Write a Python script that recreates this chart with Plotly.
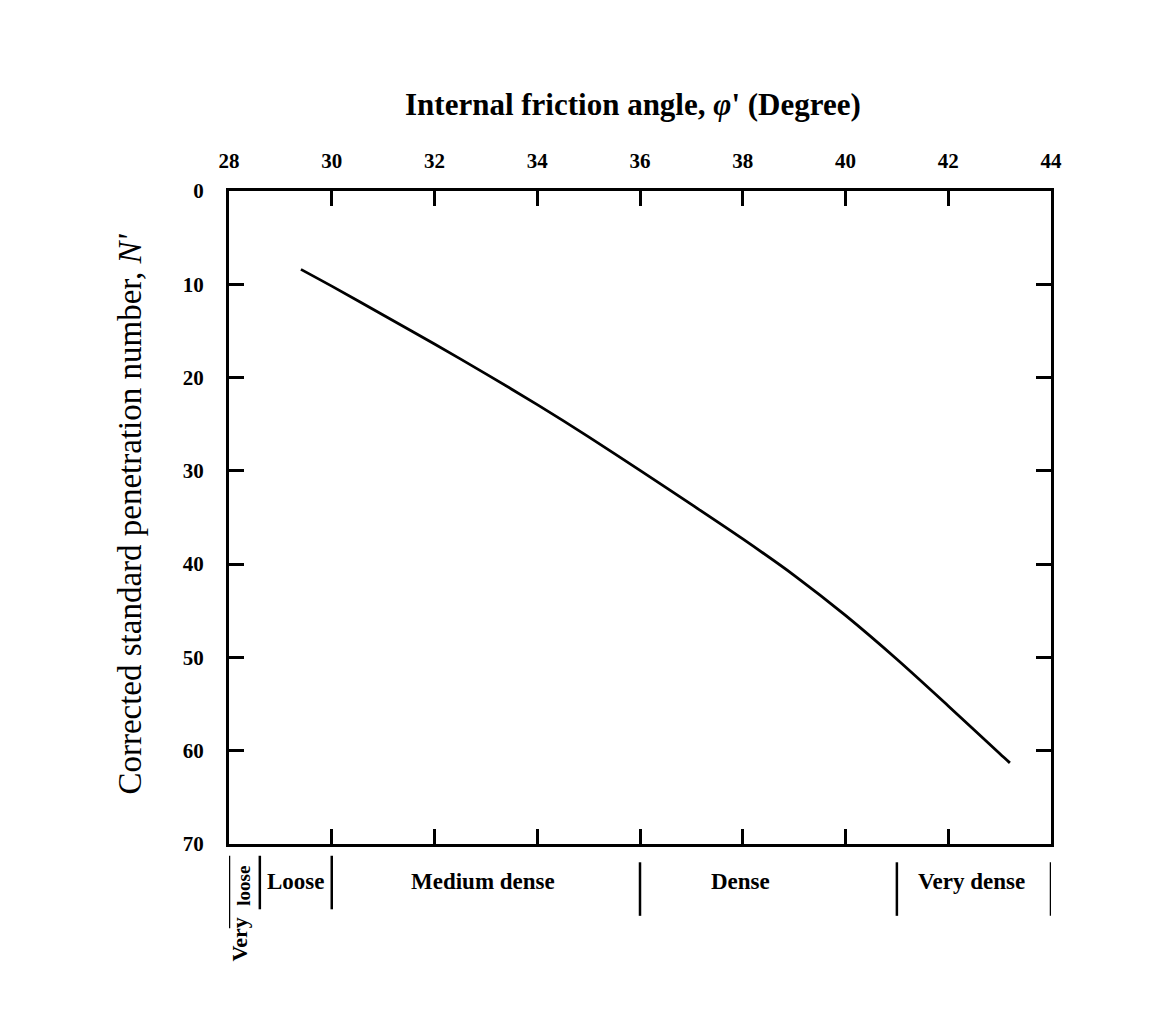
import plotly.graph_objects as go

# Data
phi = [29.4, 30, 31, 32, 33, 34, 35, 36, 37, 38, 39, 40, 41, 42, 43, 43.2]
n_corr = [8.4, 10.2, 13.3, 16.4, 19.6, 22.9, 26.35, 29.95, 33.6, 37.3, 41.2, 45.5, 50.2, 55.2, 60.3, 61.3]

x_ticks = [28, 30, 32, 34, 36, 38, 40, 42, 44]
y_ticks = [0, 10, 20, 30, 40, 50, 60, 70]

zone_bounds = [28, 28.6, 30, 36, 41, 44]
zone_labels = ["Loose", "Medium dense", "Dense", "Very dense"]
zone_label_x = [29.3, 32.95, 37.95, 42.45]

FONT = "Liberation Serif"

fig = go.Figure()
fig.add_trace(go.Scatter(x=phi, y=n_corr, mode="lines",
                         line=dict(color="black", width=2.8, shape="spline", smoothing=0.8),
                         showlegend=False, hoverinfo="skip"))

fig.update_layout(
    width=1171, height=1011,
    margin=dict(l=221, r=128, t=183, b=175),
    paper_bgcolor="white", plot_bgcolor="white",
    font=dict(family=FONT, color="black"),
    showlegend=False,
)
fig.update_xaxes(range=[28, 44], side="top", tickvals=x_ticks,
                 ticktext=[f"<b>{v}</b>" for v in x_ticks],
                 ticks="inside", ticklen=15, tickwidth=2.5, tickcolor="black",
                 showline=True, linecolor="black", linewidth=3, mirror="ticks",
                 showgrid=False, zeroline=False,
                 tickfont=dict(family=FONT, size=21, color="black"),
                 ticklabelstandoff=12)
fig.update_yaxes(range=[70, 0], tickvals=y_ticks,
                 ticktext=[f"<b>{v}</b>" for v in y_ticks],
                 ticks="inside", ticklen=15, tickwidth=2.5, tickcolor="black",
                 showline=True, linecolor="black", linewidth=3, mirror="ticks",
                 showgrid=False, zeroline=False,
                 tickfont=dict(family=FONT, size=21, color="black"),
                 ticklabelstandoff=18)

# Axis titles
fig.add_annotation(text="<b>Internal friction angle, <i>φ</i>' (Degree)</b>",
                   xref="paper", yref="paper", x=0.492, y=1.133,
                   xanchor="center", yanchor="middle",
                   showarrow=False, font=dict(family=FONT, size=31, color="black"))
fig.add_annotation(text="Corrected standard penetration number, <i>N'</i>",
                   xref="paper", yref="paper", x=-0.12, y=0.505, textangle=-90,
                   xanchor="center", yanchor="middle",
                   showarrow=False, font=dict(family=FONT, size=33, color="black"))

# Density zone separators below the plot
for i, xb in enumerate(zone_bounds):
    y1 = -0.129 if i == 0 else (-0.100 if i < 3 else -0.110)
    y0 = -0.018 if i < 3 else -0.028
    fig.add_shape(type="line", xref="x", yref="paper", x0=xb, x1=xb, y0=y0, y1=y1,
                  line=dict(color="black", width=2.5))

for lab, xl in zip(zone_labels, zone_label_x):
    fig.add_annotation(text=f"<b>{lab}</b>", xref="x", yref="paper", x=xl, y=-0.057,
                       xanchor="center", yanchor="middle",
                       showarrow=False, font=dict(family=FONT, size=23, color="black"))

fig.add_annotation(text="<b>loose</b>", xref="x", yref="paper", x=28.29, y=-0.064,
                   textangle=-90, xanchor="center", yanchor="middle", showarrow=False,
                   font=dict(family=FONT, size=19, color="black"))
fig.add_annotation(text="<b>Very</b>", xref="x", yref="paper", x=28.2, y=-0.146,
                   textangle=-90, xanchor="center", yanchor="middle", showarrow=False,
                   font=dict(family=FONT, size=22, color="black"))

fig.write_html("out.html")
